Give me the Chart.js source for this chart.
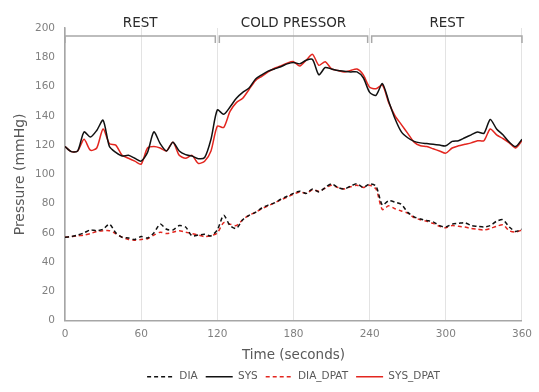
<!DOCTYPE html>
<html>
<head>
<meta charset="utf-8">
<script src="https://cdn.jsdelivr.net/npm/chart.js@4.4.1/dist/chart.umd.min.js"></script>
<style>
  html, body { margin: 0; padding: 0; background: #fff; }
  #bp { display: block; }
</style>
</head>
<body>
<canvas id="bp" width="539" height="392"></canvas>
<script>
const seconds = [0, 5, 10, 15, 20, 25, 30, 35, 40, 45, 50, 55, 60, 65, 70, 75, 80, 85, 90, 95,
  100, 105, 110, 115, 120, 125, 130, 135, 140, 145, 150, 155, 160, 165, 170, 175, 180, 185, 190, 195,
  200, 205, 210, 215, 220, 225, 230, 235, 240, 245, 250, 255, 260, 265, 270, 275, 280, 285, 290, 295,
  300, 305, 310, 315, 320, 325, 330, 335, 340, 345, 350, 355, 360];

const dia = [57, 57.5, 58.5, 60, 62, 61.5, 62.5, 66, 60, 57, 56.5, 55.5, 57.5, 56.5, 60, 66, 62.5, 62, 65, 64,
  58, 58.5, 59, 58, 62, 72, 65, 63, 69, 72, 74, 77, 79, 80.5, 83, 85, 87, 88.5, 87, 90,
  88, 91, 93.5, 91, 90, 92, 93.5, 91, 93.5, 92, 79, 82, 81, 79.5, 74, 71, 69.5, 68.5, 67.5, 65,
  64, 66, 66.5, 67, 65, 64.5, 64, 65, 68, 69, 64, 61, 62.5];

const sys = [119, 115.5, 116, 129, 125.5, 130, 137, 119, 115, 112.5, 113, 111, 109, 115, 129, 121, 116, 122, 116, 113.5,
  112.5, 110.7, 111.5, 124, 144, 141, 146, 152, 156, 159, 165, 168, 170.5, 172, 173.5, 175.5, 176.5, 175.5, 178, 178.5,
  168, 173, 172, 171, 170.5, 170, 170, 166, 156, 154, 162, 150, 138, 129, 125, 122.5, 121.5, 121, 120.5, 120,
  119.5, 122.5, 123, 125, 127, 129, 128, 137.5, 131, 127, 122, 119, 124];

const diaDpat = [57, 57.5, 58, 58.5, 59.5, 61, 61.5, 61.5, 59.5, 57, 55.5, 55, 55.5, 56, 58.5, 60.5, 59.5, 60.5, 61.5, 60.5,
  59.5, 58.5, 57.5, 58, 60, 67, 66, 65, 69, 72, 74, 76.5, 78.5, 80.5, 82.5, 84.5, 86.5, 88, 87, 89.5,
  88.5, 90.5, 92.5, 91, 90, 91.5, 92.5, 91, 92.5, 90, 76, 78.5, 76.5, 75, 73.5, 70.5, 69, 68, 66.5, 64.5,
  63.5, 65, 64.5, 64, 63, 62.5, 62, 63, 64.5, 65.5, 61.5, 60.5, 62];

const sysDpat = [119, 115.5, 116, 124, 116.5, 118, 131, 121, 120, 113, 111, 109, 107, 118, 119, 118, 116, 122, 113, 111,
  113, 107.5, 109, 116, 133, 132, 143, 149, 152, 158, 164, 167, 170, 172.5, 174, 176, 177, 174, 178, 182,
  174.5, 177, 172, 171, 170, 171, 172, 168, 159.5, 158.5, 161, 149, 140, 134, 128, 122, 119.5, 119, 117.5, 116,
  114.5, 118, 119.5, 120.5, 121.5, 123, 123, 131, 127, 124.5, 121.5, 118, 123];

const phaseLabels = ["REST", "COLD PRESSOR", "REST"];
const phaseBounds = [0, 120, 240, 360];

const FONT = "'DejaVu Sans', sans-serif";
const BLACK = "#111111";
const RED = "#e3261f";

// brackets over each phase of the protocol
const phaseBrackets = {
    id: "phaseBrackets",
    afterUpdate(chart) {
        // centre the legend under the plot area, not the whole canvas
        const lg = chart.legend;
        lg.left = chart.chartArea.left;
        lg.right = chart.chartArea.right;
        lg.adjustHitBoxes();
    },
    afterDraw(chart) {
        const ctx = chart.ctx;
        const xs = chart.scales.x;
        const top = chart.chartArea.top;
        const lineY = top + 8;
        const tickY = lineY + 7;
        ctx.save();
        ctx.strokeStyle = "#a8a8a8";
        ctx.lineWidth = 1.5;
        ctx.fillStyle = "#2b2b2b";
        ctx.font = "13.5px " + FONT;
        ctx.textAlign = "center";
        ctx.textBaseline = "middle";
        phaseLabels.forEach((label, i) => {
            const x0 = xs.getPixelForValue(phaseBounds[i]) + (i > 0 ? 2 : 0);
            const x1 = xs.getPixelForValue(phaseBounds[i + 1]) - (i < phaseLabels.length - 1 ? 2 : 0);
            ctx.beginPath();
            ctx.moveTo(x0, tickY);
            ctx.lineTo(x0, lineY);
            ctx.lineTo(x1, lineY);
            ctx.lineTo(x1, tickY);
            ctx.stroke();
            ctx.fillText(label, (x0 + x1) / 2, top - 5);
        });
        ctx.restore();
    }
};

function series(label, values, color, dashed) {
    return {
        label: label,
        data: values,
        borderColor: color,
        backgroundColor: color,
        borderWidth: 1.5,
        borderDash: dashed ? [4, 3] : [],
        pointRadius: 0,
        tension: 0.25,
        fill: false
    };
}

new Chart(document.getElementById("bp"), {
    type: "line",
    data: {
        labels: seconds,
        datasets: [
            series("DIA", dia, BLACK, true),
            series("SYS", sys, BLACK, false),
            series("DIA_DPAT", diaDpat, RED, true),
            series("SYS_DPAT", sysDpat, RED, false)
        ]
    },
    options: {
        responsive: false,
        animation: false,
        devicePixelRatio: 1,
        layout: { padding: { top: 28, right: 14, left: 0, bottom: 0 } },
        plugins: {
            tooltip: { enabled: false },
            legend: {
                position: "bottom",
                labels: {
                    usePointStyle: true,
                    pointStyle: "line",
                    pointStyleWidth: 27,
                    padding: 8,
                    color: "#595959",
                    font: { family: FONT, size: 10.5 },
                    generateLabels(chart) {
                        const items = Chart.defaults.plugins.legend.labels.generateLabels(chart);
                        items.forEach(it => {
                            const ds = chart.data.datasets[it.datasetIndex];
                            it.lineDash = ds.borderDash;
                            it.lineWidth = 1.5;
                            it.strokeStyle = ds.borderColor;
                        });
                        return items;
                    }
                }
            }
        },
        scales: {
            x: {
                type: "linear",
                min: 0,
                max: 360,
                ticks: { stepSize: 60, padding: 7, color: "#808080", font: { family: FONT, size: 10.5 } },
                grid: { color: "#e3e3e3", lineWidth: 1, drawTicks: false },
                border: { color: "#a6a6a6", width: 1.5 },
                title: { display: true, text: "Time (seconds)", color: "#595959",
                         font: { family: FONT, size: 13.5 }, padding: { top: 0, bottom: 0 } },
                afterFit(scale) { scale.height = 42.8; }
            },
            y: {
                min: 0,
                max: 200,
                ticks: { stepSize: 20, padding: 10, color: "#808080", font: { family: FONT, size: 10.5 } },
                grid: { display: false, drawTicks: false },
                border: { color: "#a6a6a6", width: 1.5 },
                title: { display: true, text: "Pressure (mmHg)", color: "#595959",
                         font: { family: FONT, size: 14 }, padding: { top: 11.6, bottom: 0 } },
                afterFit(scale) { scale.width = 65; }
            }
        }
    },
    plugins: [phaseBrackets]
});
</script>
</body>
</html>
